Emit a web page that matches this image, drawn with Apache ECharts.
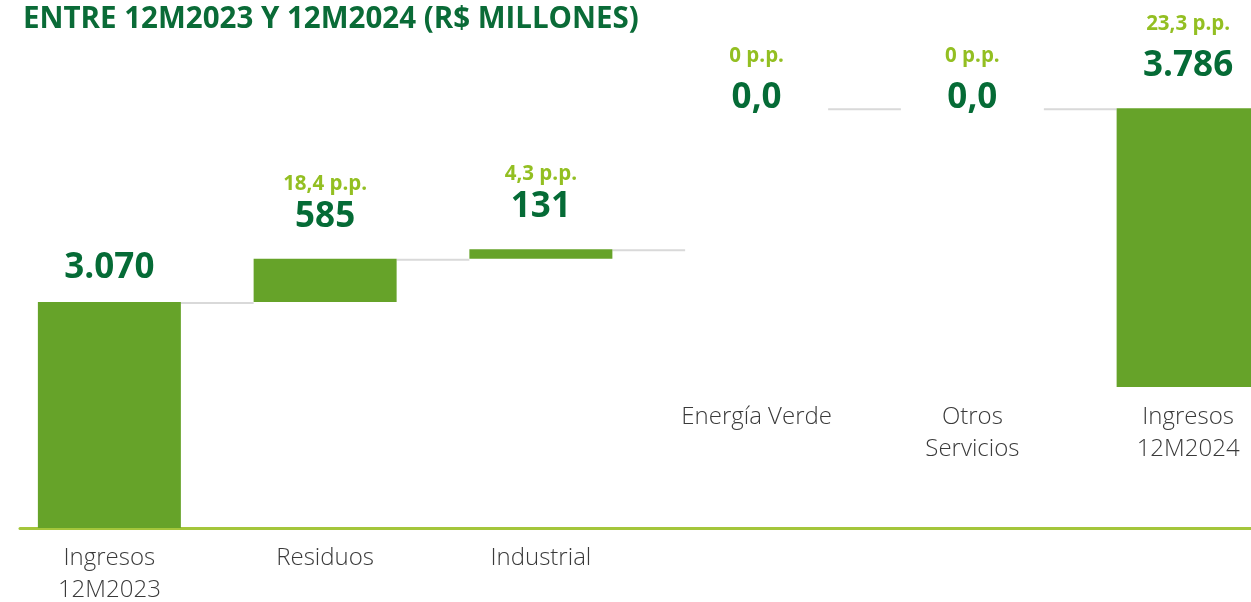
<!DOCTYPE html>
<html>
<head>
<meta charset="utf-8">
<script src="https://cdn.jsdelivr.net/npm/echarts@6/dist/echarts.min.js"></script>
<style>
  html, body { margin: 0; padding: 0; background: #fff; }
  #chart { width: 1251px; height: 602px; }
</style>
</head>
<body>
<div id="chart"></div>
<script>
// datos (R$ millones)
var categories = ['Ingresos\n12M2023', 'Residuos', 'Industrial', 'Energía Verde', 'Otros\nServicios', 'Ingresos\n12M2024'];
var kinds = ['total', 'delta', 'delta', 'delta', 'delta', 'total'];
var values = [3070, 585, 131, 0, 0, 3786];
var valueLabels = ['3.070', '585', '131', '0,0', '0,0', '3.786'];
var ppLabels = ['', '18,4 p.p.', '4,3 p.p.', '0 p.p.', '0 p.p.', '23,3 p.p.'];

var split = 3; // los 3 primeros van en el panel de abajo
var BAR_W = 143;

// base de cada barra (cascada)
var bases = [], tops = [], run = 0;
for (var i = 0; i < values.length; i++) {
  if (kinds[i] == 'total') { bases.push(0); run = values[i]; }
  else { bases.push(run); run += values[i]; }
  tops.push(bases[i] + values[i]);
}

function part(arr, from, to) {
  return arr.map(function (v, i) { return (i >= from && i < to) ? v : '-'; });
}

function labelItems(from, to) {
  return values.map(function (v, i) {
    if (i < from || i >= to) return '-';
    var dist = ppLabels[i] ? 22 : 14;
    if (v === 0) dist = -10;
    return { value: v, label: { distance: dist } };
  });
}

function connectors(from, to) {
  var out = [];
  for (var i = from; i < to && i < values.length - 1; i++) out.push([i, tops[i]]);
  return out;
}

function renderConnector(params, api) {
  var i = api.value(0), lvl = api.value(1);
  var p0 = api.coord([i, lvl]), p1 = api.coord([i + 1, lvl]);
  return {
    type: 'line',
    shape: { x1: p0[0] + BAR_W / 2, y1: p0[1] + 1, x2: p1[0] - BAR_W / 2, y2: p1[1] + 1 },
    style: { stroke: '#d9d9d9', lineWidth: 2 }
  };
}

function valueLabel(ppLine) {
  return {
    show: true,
    position: 'top',
    formatter: function (p) {
      var s = '{v|' + valueLabels[p.dataIndex] + '}';
      return ppLabels[p.dataIndex] ? '{pp|' + ppLabels[p.dataIndex] + '}\n' + s : s;
    },
    rich: {
      pp: { fontFamily: 'Open Sans', fontSize: 20.5, fontWeight: 'bold', color: '#93bf22', lineHeight: ppLine },
      v: { fontFamily: 'Open Sans', fontSize: 35, fontWeight: 'bold', color: '#056b36', lineHeight: 40 }
    }
  };
}

function xAxisFor(gi, from, to) {
  return {
    type: 'category', gridIndex: gi, data: categories,
    axisLine: { show: false }, axisTick: { show: false },
    axisLabel: {
      interval: 0, margin: 14, color: '#3a3a3a', fontFamily: 'Open Sans', fontSize: 24, fontWeight: 300, lineHeight: 32,
      formatter: function (v, idx) { return (idx >= from && idx < to) ? v : ''; }
    }
  };
}

var chart = echarts.init(document.getElementById('chart'));
chart.setOption({
  animation: false,
  title: {
    text: 'ENTRE 12M2023 Y 12M2024 (R$ MILLONES)',
    left: 18, top: 0,
    textStyle: { fontFamily: 'Open Sans', fontSize: 29.5, fontWeight: 'bold', color: '#0a6b37' }
  },
  grid: [
    { left: 1.5, right: -45, top: 42, bottom: 74, outerBoundsMode: 'none' },
    { left: 1.5, right: -45, top: 0, bottom: 215, outerBoundsMode: 'none' },
    { left: 20, right: 0, top: 42, bottom: 74, outerBoundsMode: 'none' }
  ],
  xAxis: [
    xAxisFor(0, 0, split),
    xAxisFor(1, split, values.length),
    { type: 'value', gridIndex: 2, axisLine: { show: true, lineStyle: { color: '#a4c63b', width: 3 } },
      axisTick: { show: false }, axisLabel: { show: false }, splitLine: { show: false } }
  ],
  yAxis: [
    { type: 'value', gridIndex: 0, min: 0, max: 6600, show: false },
    { type: 'value', gridIndex: 1, min: 0, max: 5256, show: false },
    { type: 'value', gridIndex: 2, show: false }
  ],
  series: [
    { type: 'bar', xAxisIndex: 0, yAxisIndex: 0, stack: 'a', barWidth: BAR_W, silent: true,
      itemStyle: { color: 'transparent' }, data: part(bases, 0, split) },
    { type: 'bar', xAxisIndex: 0, yAxisIndex: 0, stack: 'a', barWidth: BAR_W,
      itemStyle: { color: '#66a329' }, label: valueLabel(26), data: labelItems(0, split) },
    { type: 'custom', xAxisIndex: 0, yAxisIndex: 0, renderItem: renderConnector, data: connectors(0, split), z: 1 },

    { type: 'bar', xAxisIndex: 1, yAxisIndex: 1, stack: 'b', barWidth: BAR_W, silent: true,
      itemStyle: { color: 'transparent' }, data: part(bases, split, values.length) },
    { type: 'bar', xAxisIndex: 1, yAxisIndex: 1, stack: 'b', barWidth: BAR_W,
      itemStyle: { color: '#66a329' }, label: valueLabel(44), data: labelItems(split, values.length) },
    { type: 'custom', xAxisIndex: 1, yAxisIndex: 1, renderItem: renderConnector, data: connectors(split, values.length), z: 1 }
  ]
});
</script>
</body>
</html>
